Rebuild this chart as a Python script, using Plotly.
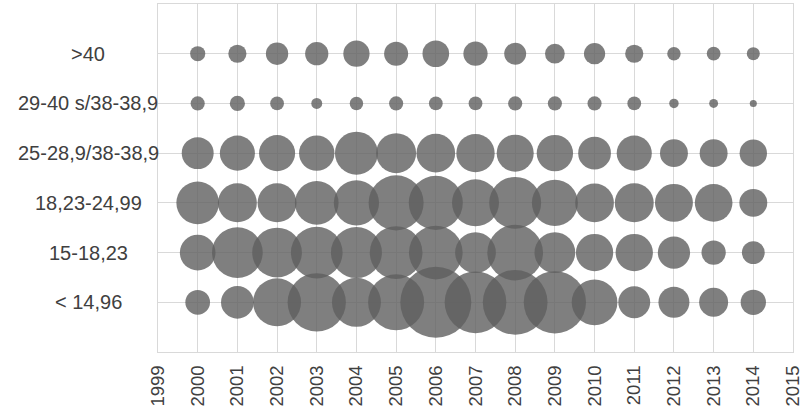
import plotly.graph_objects as go

# ---- data ----
years = list(range(2000, 2015))
x_ticks = list(range(1999, 2016))
categories = ["< 14,96", "15-18,23", "18,23-24,99", "25-28,9/38-38,9", "29-40 s/38-38,9", ">40"]

v_lt15 = [6.1, 10.7, 23.0, 34.0, 24.0, 31.4, 50.4, 38.1, 41.9, 38.8, 20.9, 10.2, 9.6, 8.4, 6.4]
v_15_18 = [12.7, 25.7, 24.7, 26.7, 26.0, 27.8, 28.8, 16.6, 31.0, 16.6, 13.9, 13.9, 10.4, 5.9, 5.2]
v_18_25 = [18.2, 15.2, 15.2, 19.1, 20.5, 30.3, 29.2, 22.1, 27.0, 21.2, 15.0, 15.2, 14.4, 14.2, 7.8]
v_25_29 = [10.2, 12.3, 13.0, 12.5, 18.5, 16.0, 15.0, 14.7, 13.7, 13.2, 10.7, 12.3, 7.8, 7.8, 7.5]
v_29_40 = [2.0, 2.3, 1.9, 1.2, 1.8, 2.0, 1.9, 1.9, 2.0, 2.0, 2.0, 1.9, 0.9, 0.8, 0.5]
v_gt40 = [2.3, 3.3, 5.0, 5.4, 6.9, 5.8, 7.1, 5.9, 4.8, 3.9, 4.5, 3.3, 1.8, 1.9, 1.7]

series = [v_lt15, v_15_18, v_18_25, v_25_29, v_29_40, v_gt40]

FONT = "Liberation Sans, Arial, sans-serif"
GRID = "#d9d9d9"
TEXT = "#404040"

fig = go.Figure()
for cat, vals in zip(categories, series):
    fig.add_trace(go.Scatter(
        x=years,
        y=[cat] * len(years),
        mode="markers",
        name=cat,
        marker=dict(
            size=vals,
            sizemode="area",
            sizeref=0.02,
            color="rgb(95,95,95)",
            opacity=0.8,
            line=dict(width=0),
        ),
        showlegend=False,
        hoverinfo="skip",
    ))

annotations = [
    dict(text=cat, x=-0.11, xref="paper", xanchor="center",
         y=cat, yref="y", yanchor="middle", showarrow=False,
         font=dict(family=FONT, size=20, color=TEXT))
    for cat in categories
]

fig.update_layout(
    width=805, height=416,
    margin=dict(l=158, r=12, t=4, b=64, autoexpand=False),
    plot_bgcolor="white", paper_bgcolor="white",
    annotations=annotations,
    xaxis=dict(
        range=[1999, 2015],
        tickmode="array", tickvals=x_ticks, ticktext=[str(t) for t in x_ticks],
        tickangle=-90,
        tickfont=dict(family=FONT, size=18.5, color=TEXT),
        ticklabelstandoff=5,
        showgrid=True, gridcolor=GRID, gridwidth=1,
        showline=True, linecolor=GRID, linewidth=1, mirror=True,
        zeroline=False, ticks="", automargin=False,
    ),
    yaxis=dict(
        type="category",
        categoryorder="array", categoryarray=categories,
        range=[-1, 6],
        showticklabels=False,
        showgrid=True, gridcolor=GRID, gridwidth=1,
        showline=True, linecolor=GRID, linewidth=1, mirror=True,
        zeroline=False, ticks="", automargin=False,
    ),
)

fig.write_html(
    "out.html",
    config={"displayModeBar": False},
    post_script="document.body.style.margin='0';document.body.style.overflow='hidden';",
)
